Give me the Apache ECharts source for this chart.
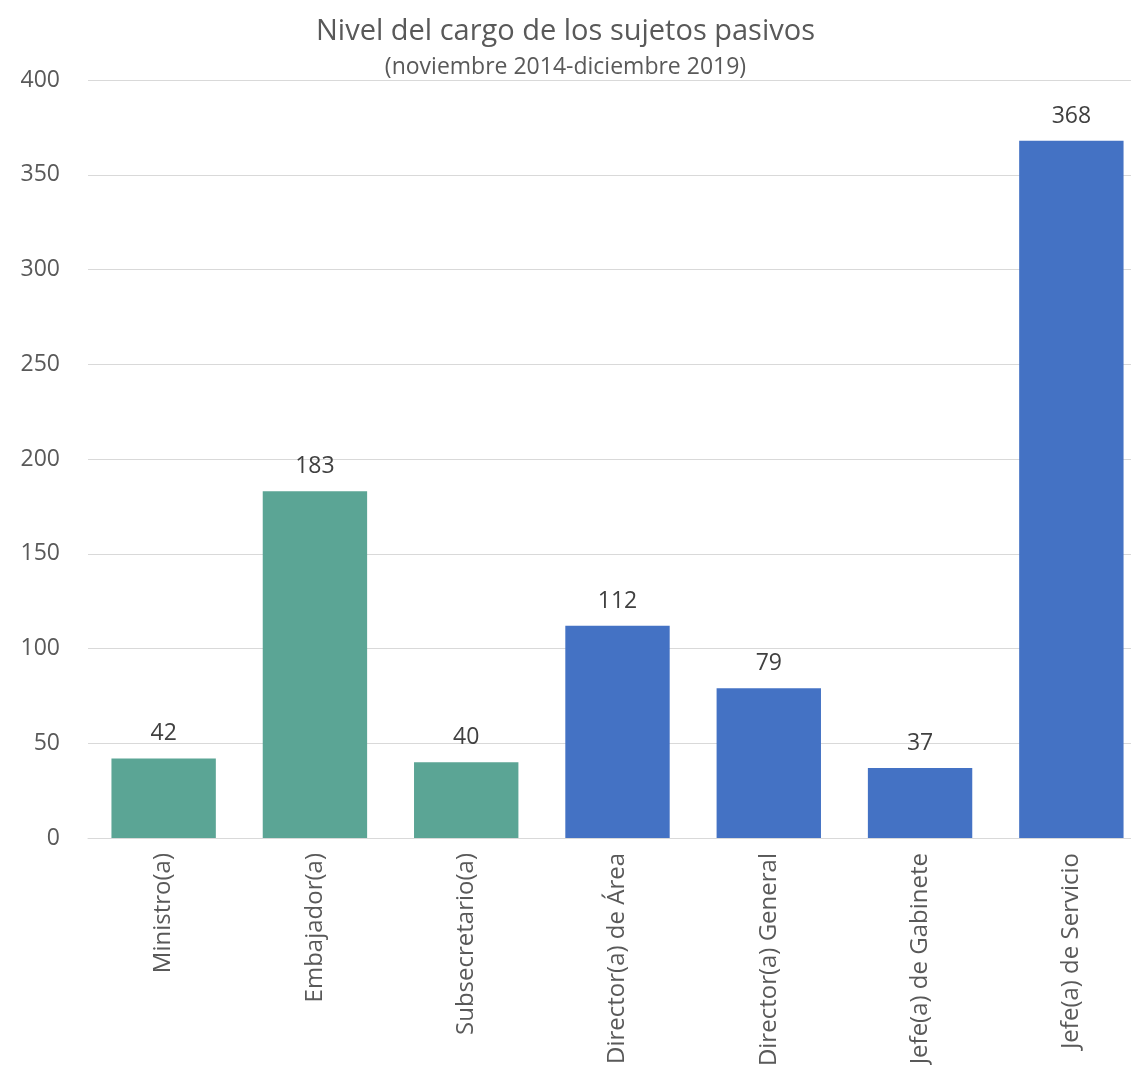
<!DOCTYPE html>
<html>
<head>
<meta charset="utf-8">
<script src="https://cdn.jsdelivr.net/npm/echarts@6/dist/echarts.min.js"></script>
<style>
  html, body { margin: 0; padding: 0; background: #fff; }
  #chart { width: 1131px; height: 1065px; }
</style>
</head>
<body>
<div id="chart"></div>
<script>
const categories = [
  "Ministro(a)",
  "Embajador(a)",
  "Subsecretario(a)",
  "Director(a) de Área",
  "Director(a) General",
  "Jefe(a) de Gabinete",
  "Jefe(a) de Servicio"
];
const values = [42, 183, 40, 112, 79, 37, 368];
// which colour group each bar belongs to
const groups = ["green", "green", "green", "blue", "blue", "blue", "blue"];
const yTicks = [0, 50, 100, 150, 200, 250, 300, 350, 400];

const palette = { green: "#5ba595", blue: "#4472c4" };
const textColor = "#595959";
const font = "'Open Sans', 'Noto Sans', sans-serif";

const chart = echarts.init(document.getElementById("chart"));
chart.setOption({
  backgroundColor: "#fff",
  title: {
    text: "Nivel del cargo de los sujetos pasivos",
    subtext: "(noviembre 2014-diciembre 2019)",
    left: "center",
    top: 12,
    itemGap: 10,
    textStyle: {
      fontFamily: font,
      fontSize: 29,
      fontWeight: "normal",
      color: textColor
    },
    subtextStyle: {
      fontFamily: font,
      fontSize: 23,
      color: textColor
    }
  },
  // the plot runs a little past the right edge of the picture
  grid: {
    left: 88,
    width: 1059,
    top: 80,
    bottom: 227,
    containLabel: false,
    outerBoundsMode: "none"
  },
  xAxis: {
    type: "category",
    data: categories,
    axisLine: { lineStyle: { color: "#d9d9d9", width: 1 } },
    axisTick: { show: false },
    axisLabel: {
      rotate: 90,
      interval: 0,
      margin: 15,
      fontFamily: font,
      fontSize: 24,
      color: textColor
    }
  },
  yAxis: {
    type: "value",
    min: yTicks[0],
    max: yTicks[yTicks.length - 1],
    interval: 50,
    axisLine: { show: false },
    axisTick: { show: false },
    splitLine: { lineStyle: { color: "#d9d9d9", width: 1 } },
    axisLabel: {
      margin: 28,
      fontFamily: font,
      fontSize: 23,
      color: textColor
    }
  },
  series: [
    {
      type: "bar",
      barCategoryGap: "31%",
      data: values.map((v, i) => ({
        value: v,
        itemStyle: { color: palette[groups[i]] }
      })),
      label: {
        show: true,
        position: "top",
        distance: 13,
        fontFamily: font,
        fontSize: 23,
        color: "#404040"
      }
    }
  ]
});
</script>
</body>
</html>
